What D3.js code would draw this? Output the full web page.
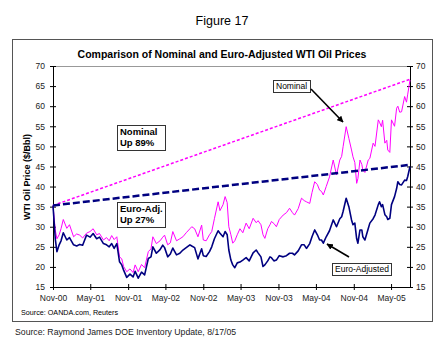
<!DOCTYPE html>
<html>
<head>
<meta charset="utf-8">
<script src="https://cdn.jsdelivr.net/npm/d3@7"></script>
<style>
  body { margin: 0; background: #fff; }
  svg { display: block; font-family: "Liberation Sans", Arial, sans-serif; }
</style>
</head>
<body>
<div id="chart"></div>
<script>
// weekly-ish readings, $/bbl
var dates = [
    "2000-11-01", "2000-11-12", "2000-11-20", "2000-12-01", "2000-12-10", "2000-12-21",
    "2001-01-07", "2001-01-20", "2001-02-09", "2001-02-24", "2001-03-11", "2001-03-25",
    "2001-04-13", "2001-04-30", "2001-05-15", "2001-06-01", "2001-06-15", "2001-07-04",
    "2001-07-19", "2001-08-01", "2001-08-13", "2001-08-25", "2001-09-07", "2001-09-20",
    "2001-10-01", "2001-10-10", "2001-10-25", "2001-11-10", "2001-11-25", "2001-12-05",
    "2001-12-20", "2002-01-05", "2002-01-20", "2002-02-07", "2002-02-20", "2002-03-01",
    "2002-03-18", "2002-04-05", "2002-04-18", "2002-04-27", "2002-05-12", "2002-05-25",
    "2002-06-06", "2002-06-24", "2002-07-10", "2002-07-25", "2002-08-10", "2002-08-28",
    "2002-09-06", "2002-09-20", "2002-10-06", "2002-10-24", "2002-11-01", "2002-11-15",
    "2002-12-01", "2002-12-12", "2002-12-25", "2003-01-12", "2003-01-21", "2003-02-05",
    "2003-02-15", "2003-02-25", "2003-03-05", "2003-03-15", "2003-03-24", "2003-04-03",
    "2003-04-15", "2003-04-28", "2003-05-12", "2003-05-28", "2003-06-12", "2003-07-01",
    "2003-07-16", "2003-07-25", "2003-08-08", "2003-08-18", "2003-08-27", "2003-09-10",
    "2003-09-21", "2003-09-28", "2003-10-10", "2003-10-22", "2003-11-05", "2003-11-24",
    "2003-12-10", "2003-12-25", "2004-01-08", "2004-01-18", "2004-02-05", "2004-02-21",
    "2004-03-05", "2004-03-16", "2004-04-01", "2004-04-12", "2004-04-25", "2004-05-08",
    "2004-05-19", "2004-05-28", "2004-06-06", "2004-06-20", "2004-07-06", "2004-07-24",
    "2004-08-09", "2004-08-25", "2004-09-03", "2004-09-10", "2004-09-25", "2004-10-08",
    "2004-10-21", "2004-10-28", "2004-11-06", "2004-11-15", "2004-11-21", "2004-12-01",
    "2004-12-10", "2004-12-15", "2004-12-25", "2005-01-10", "2005-01-18", "2005-02-03",
    "2005-02-12", "2005-02-28", "2005-03-06", "2005-03-15", "2005-03-21", "2005-04-01",
    "2005-04-10", "2005-04-15", "2005-04-25", "2005-05-03", "2005-05-18", "2005-05-28",
    "2005-06-03", "2005-06-12", "2005-06-21", "2005-07-06", "2005-07-15", "2005-07-21",
    "2005-08-01"
];

var nominal = [
    35.3, 29.2, 27.0, 28.0, 29.5, 31.8,
    29.6, 30.5, 27.5, 28.2, 27.9, 27.2,
    28.4, 28.8, 29.5, 28.0, 28.3, 26.7,
    27.3, 26.5, 27.8, 26.8, 27.5, 22.5,
    22.0, 20.1, 18.8, 19.5, 18.6, 20.5,
    18.8, 20.6, 19.8, 23.8, 24.5, 27.5,
    25.8, 26.5, 27.4, 27.9, 25.5, 26.0,
    28.8, 26.5, 27.0, 27.5, 28.5, 29.5,
    30.0, 29.5, 27.5, 30.4, 26.7, 26.5,
    28.0, 28.8, 32.0, 36.2, 34.0, 35.5,
    37.5, 36.0, 30.0, 28.0, 25.9, 26.5,
    28.0, 29.5, 28.5, 30.9, 29.5, 32.1,
    31.0, 31.5, 30.5, 28.0, 27.1, 29.5,
    30.5, 31.3, 30.8, 30.0, 31.8, 32.9,
    33.5, 34.6, 33.5, 32.9, 34.5, 37.1,
    36.5, 36.2, 35.8, 38.5, 41.2, 40.5,
    39.1, 38.8, 37.9, 40.0, 42.4, 46.6,
    42.9, 46.6, 47.5, 49.9, 54.9, 52.0,
    49.1, 47.4, 46.0, 40.8, 42.0, 46.6,
    45.5, 44.1, 43.5, 46.6, 47.0, 50.8,
    50.0, 56.6, 56.0, 54.9, 56.5, 50.8,
    51.5, 49.1, 48.5, 56.6, 55.0, 59.5,
    60.0, 58.5, 58.6, 62.4, 61.0, 63.0,
    66.5
];

var euroAdjusted = [
    35.3, 27.0, 23.8, 25.5, 26.5, 28.5,
    26.7, 27.3, 25.5, 25.2, 25.6, 25.4,
    27.9, 27.4, 28.3, 27.0, 27.4, 25.8,
    25.5, 25.0, 25.8, 24.6, 25.8, 21.3,
    20.5, 19.2, 17.4, 18.2, 17.5, 18.9,
    17.2, 18.7, 18.0, 22.1, 22.5, 25.0,
    23.4, 24.3, 25.4, 24.8, 22.5, 23.2,
    24.7, 23.0, 23.4, 24.2, 24.8, 25.5,
    25.2, 24.8, 22.0, 24.5, 22.8, 22.6,
    23.8, 25.0, 27.0, 29.0, 28.4, 27.5,
    28.8, 28.0, 24.2, 21.7, 20.5, 19.8,
    21.0, 21.2, 21.7, 22.3, 21.5, 23.5,
    24.2, 23.5, 22.5, 20.1, 20.5, 21.5,
    22.5, 22.3, 21.5, 21.7, 22.8, 22.5,
    22.8, 23.4, 23.4, 23.0, 24.0, 25.5,
    25.5, 24.6, 25.8, 27.5, 29.2, 28.0,
    26.7, 26.7, 25.9, 27.5, 29.0, 31.7,
    30.0, 32.0, 32.5, 33.8, 37.1, 35.0,
    31.7, 30.5, 30.9, 27.0, 25.9, 29.2,
    29.2, 27.5, 26.7, 29.5, 30.9, 32.0,
    32.9, 35.5, 36.2, 35.0, 35.5, 33.0,
    32.5, 31.8, 32.1, 35.5, 37.5, 39.5,
    41.2, 40.5, 40.4, 41.6, 41.5, 42.5,
    45.0
];

// trend lines: start and end of the period
var trendDates = ["2000-11-01", "2005-08-01"];
var nominalTrend = [35.3, 66.7];
var euroTrend = [35.3, 45.4];

var xTickLabels = ["Nov-00", "May-01", "Nov-01", "May-02", "Nov-02", "May-03", "Nov-03", "May-04", "Nov-04", "May-05"];
var yTicks = [15, 20, 25, 30, 35, 40, 45, 50, 55, 60, 65, 70];

function drawChart() {
    var W = 444, H = 345;
    var margin = { top: 66, left: 53 };
    var width = 357, height = 221;

    var parseDate = d3.timeParse("%Y-%m-%d");
    var parseTick = d3.timeParse("%b-%y");

    var svg = d3.select("#chart").append("svg")
        .attr("width", W)
        .attr("height", H);

    svg.append("rect").attr("width", W).attr("height", H).attr("fill", "#fff");

    svg.append("text")
        .attr("x", 222).attr("y", 25)
        .attr("text-anchor", "middle")
        .style("font-size", "12.5px")
        .text("Figure 17");

    // chart frame
    svg.append("rect")
        .attr("x", 12.5).attr("y", 39.5)
        .attr("width", 420).attr("height", 282)
        .attr("fill", "none")
        .attr("stroke", "#555");

    svg.append("text")
        .attr("x", 222).attr("y", 58)
        .attr("text-anchor", "middle")
        .style("font-size", "10.5px")
        .style("font-weight", "bold")
        .text("Comparison of Nominal and Euro-Adjusted WTI Oil Prices");

    var g = svg.append("g")
        .attr("transform", "translate(" + margin.left + "," + margin.top + ")");

    var x = d3.scaleTime()
        .domain([parseDate(trendDates[0]), parseDate(trendDates[1])])
        .range([0, width]);

    var y = d3.scaleLinear()
        .domain([15, 70])
        .range([height, 0]);

    // plot area border
    g.append("rect")
        .attr("x", 0.5).attr("y", 0.5)
        .attr("width", width).attr("height", height)
        .attr("fill", "none")
        .attr("stroke", "#999");

    var xAxis = g.append("g")
        .attr("transform", "translate(0," + height + ")")
        .call(d3.axisBottom(x)
            .tickValues(xTickLabels.map(parseTick))
            .tickFormat(d3.timeFormat("%b-%y"))
            .tickSize(3).tickPadding(5).tickSizeOuter(0));

    var yLeft = g.append("g")
        .call(d3.axisLeft(y).tickValues(yTicks).tickSize(3).tickPadding(5).tickSizeOuter(0));

    var yRight = g.append("g")
        .attr("transform", "translate(" + width + ",0)")
        .call(d3.axisRight(y).tickValues(yTicks).tickSize(3).tickPadding(3).tickSizeOuter(0));

    // cross style ticks like excel
    xAxis.selectAll(".tick line").attr("y1", -3).attr("y2", 3);
    yLeft.selectAll(".tick line").attr("x1", 3).attr("x2", -3);
    yRight.selectAll(".tick line").attr("x1", -3).attr("x2", 3);

    [xAxis, yLeft, yRight].forEach(function (a) {
        a.select(".domain").attr("stroke", "#000");
        a.selectAll(".tick line").attr("stroke", "#000");
        a.selectAll("text")
            .style("font-family", "'Liberation Sans', Arial, sans-serif")
            .style("font-size", "8.5px")
            .attr("fill", "#222");
    });

    svg.append("text")
        .attr("transform", "translate(30,177) rotate(-90)")
        .attr("text-anchor", "middle")
        .style("font-size", "9px")
        .style("font-weight", "bold")
        .text("WTI Oil Price ($/Bbl)");

    var line = d3.line()
        .x(function (d) { return x(d.date); })
        .y(function (d) { return y(d.value); });

    function series(ds, vals) {
        return ds.map(function (d, i) { return { date: parseDate(d), value: vals[i] }; });
    }

    g.append("path")
        .datum(series(dates, nominal))
        .attr("d", line)
        .attr("fill", "none")
        .attr("stroke", "#ff00ff")
        .attr("stroke-width", 1)
        .attr("stroke-linejoin", "round");

    g.append("path")
        .datum(series(dates, euroAdjusted))
        .attr("d", line)
        .attr("fill", "none")
        .attr("stroke", "#000080")
        .attr("stroke-width", 1.6)
        .attr("stroke-linejoin", "round");

    g.append("path")
        .datum(series(trendDates, nominalTrend))
        .attr("d", line)
        .attr("fill", "none")
        .attr("stroke", "#ff00ff")
        .attr("stroke-width", 1.5)
        .attr("stroke-dasharray", "3,2");

    g.append("path")
        .datum(series(trendDates, euroTrend))
        .attr("d", line)
        .attr("fill", "none")
        .attr("stroke", "#000080")
        .attr("stroke-width", 2.5)
        .attr("stroke-dasharray", "7,3");

    // callout boxes
    function box(x0, y0, w, h, lines, bold, size) {
        svg.append("rect")
            .attr("x", x0 + 0.5).attr("y", y0 + 0.5)
            .attr("width", w).attr("height", h)
            .attr("fill", "#fff")
            .attr("stroke", "#333");
        lines.forEach(function (t, i) {
            svg.append("text")
                .attr("x", x0 + 3)
                .attr("y", y0 + (bold ? 9.5 : 9) + i * 11.5)
                .style("font-size", size)
                .style("font-weight", bold ? "bold" : "normal")
                .text(t);
        });
    }

    box(117, 125, 48, 25, ["Nominal", "Up 89%"], true, "9.5px");
    box(117, 202, 48, 25, ["Euro-Adj.", "Up 27%"], true, "9.5px");
    box(273, 80, 37, 12, ["Nominal"], false, "8.5px");
    box(332, 263, 59, 12, ["Euro-Adjusted"], false, "8.5px");

    svg.append("defs").append("marker")
        .attr("id", "arrow")
        .attr("viewBox", "0 0 10 10")
        .attr("refX", 9).attr("refY", 5)
        .attr("markerWidth", 4).attr("markerHeight", 4)
        .attr("orient", "auto")
        .append("path")
        .attr("d", "M0,0L10,5L0,10Z")
        .attr("fill", "#000");

    svg.append("line")
        .attr("x1", 311).attr("y1", 89).attr("x2", 343).attr("y2", 122)
        .attr("stroke", "#000").attr("stroke-width", 1.6)
        .attr("marker-end", "url(#arrow)");

    svg.append("line")
        .attr("x1", 349).attr("y1", 257).attr("x2", 327).attr("y2", 244)
        .attr("stroke", "#000").attr("stroke-width", 1.6)
        .attr("marker-end", "url(#arrow)");

    svg.append("text")
        .attr("x", 21).attr("y", 315)
        .style("font-size", "7.2px")
        .text("Source: OANDA.com, Reuters");

    svg.append("text")
        .attr("x", 15).attr("y", 335)
        .attr("fill", "#222")
        .style("font-size", "8.7px")
        .text("Source: Raymond James DOE Inventory Update, 8/17/05");
}

drawChart();
</script>
</body>
</html>
